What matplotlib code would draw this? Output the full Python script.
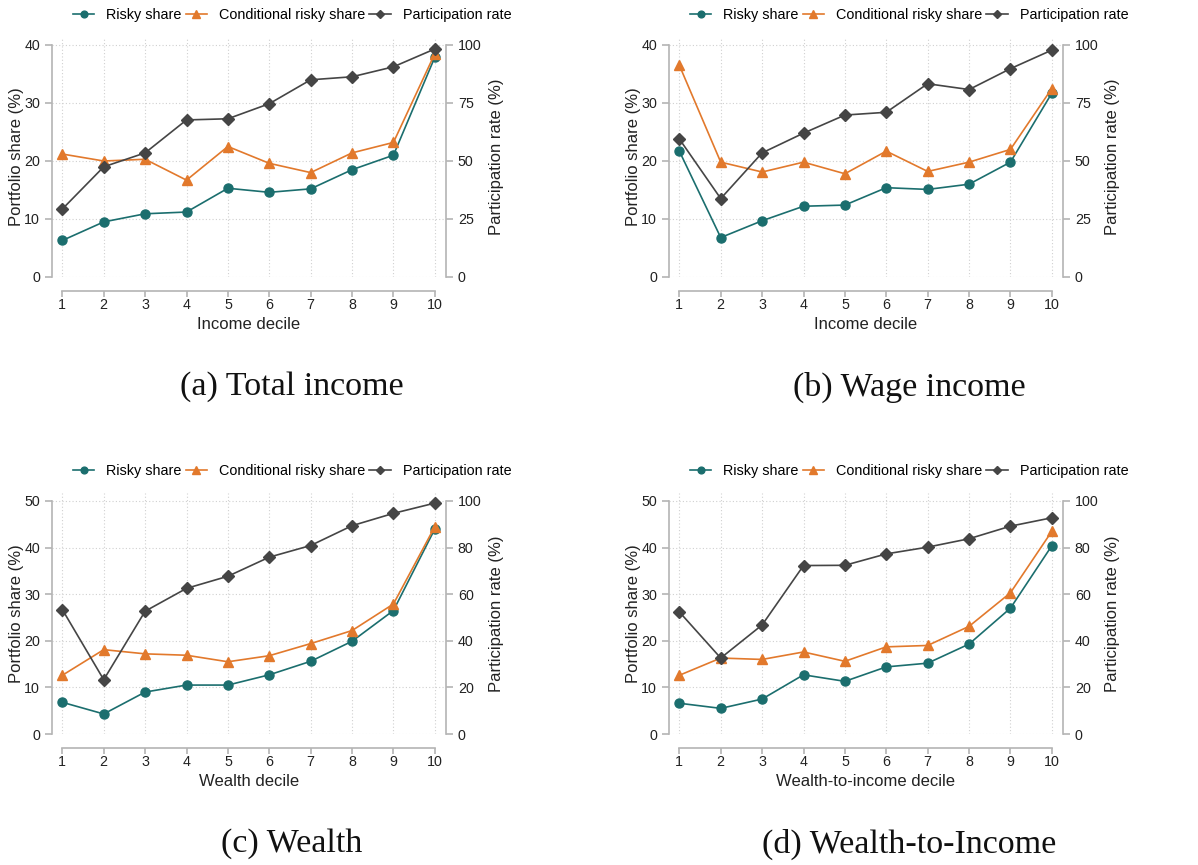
import numpy as np
import matplotlib.pyplot as plt

plt.rcParams['font.family'] = ['Liberation Sans', 'DejaVu Sans']

deciles = np.arange(1, 11)

# (a) Total income
risky_a = [6.3, 9.5, 10.9, 11.2, 15.3, 14.6, 15.2, 18.5, 21.0, 37.9]
cond_a = [21.2, 20.0, 20.3, 16.7, 22.5, 19.6, 18.0, 21.4, 23.2, 38.5]
part_a = [29.3, 47.5, 53.5, 67.7, 68.2, 74.7, 85.0, 86.3, 90.6, 98.3]

# (b) Wage income
risky_b = [21.7, 6.8, 9.7, 12.2, 12.4, 15.4, 15.1, 16.0, 19.8, 31.7]
cond_b = [36.5, 19.8, 18.1, 19.8, 17.8, 21.7, 18.2, 19.8, 22.0, 32.5]
part_b = [59.5, 33.8, 53.5, 62.0, 69.8, 71.0, 83.3, 80.8, 89.8, 97.8]

# (c) Wealth
risky_c = [6.8, 4.3, 9.0, 10.5, 10.5, 12.7, 15.6, 19.9, 26.5, 44.0]
cond_c = [12.6, 18.1, 17.2, 16.9, 15.5, 16.8, 19.4, 22.2, 27.9, 44.5]
part_c = [53.4, 23.3, 52.7, 62.5, 67.7, 75.9, 80.9, 89.4, 94.7, 99.1]

# (d) Wealth-to-income
risky_d = [6.6, 5.5, 7.5, 12.7, 11.3, 14.4, 15.2, 19.3, 27.0, 40.4]
cond_d = [12.6, 16.3, 16.0, 17.6, 15.6, 18.7, 19.0, 23.1, 30.3, 43.5]
part_d = [52.4, 32.6, 46.8, 72.3, 72.4, 77.3, 80.2, 83.8, 89.2, 92.8]

panels = [
    (risky_a, cond_a, part_a, 'Income decile', '(a) Total income', 40, 10, 25),
    (risky_b, cond_b, part_b, 'Income decile', '(b) Wage income', 40, 10, 25),
    (risky_c, cond_c, part_c, 'Wealth decile', '(c) Wealth', 50, 10, 20),
    (risky_d, cond_d, part_d, 'Wealth-to-income decile', '(d) Wealth-to-Income', 50, 10, 20),
]

c_risky = '#1b6e6e'
c_cond = '#e2792c'
c_part = '#454545'
c_spine = '#b4b4b4'

fig = plt.figure(figsize=(11.98, 8.65), dpi=100)
W, H = 1198, 865
# left spine px, top of plot px, y=0 px, legend centre y px
boxes = [(52, 37, 277, 15), (669, 37, 277, 15), (52, 493, 734, 471), (669, 493, 734, 471)]

for (risky, cond, part, xlab, cap, ymax, ystep, pstep), (lpx, tpx, bpx, legy) in zip(panels, boxes):
    ax = fig.add_axes([lpx / W, 1 - bpx / H, 394 / W, (bpx - tpx) / H])
    top = ymax * (bpx - tpx) / (bpx - tpx - 8)
    ax.set_xlim(0.75, 10.27)
    ax.set_ylim(0, top)
    ax2 = ax.twinx()
    ax2.set_ylim(0, top / ymax * 100)

    l1, = ax.plot(deciles, risky, color=c_risky, marker='o', ms=6.5, lw=1.2, clip_on=False, zorder=3)
    l2, = ax.plot(deciles, cond, color=c_cond, marker='^', ms=7, lw=1.2, clip_on=False, zorder=3)
    l3, = ax2.plot(deciles, part, color=c_part, marker='D', ms=6, lw=1.2, clip_on=False, zorder=3)

    ax.set_yticks(np.arange(0, ymax + 1, ystep))
    ax2.set_yticks(np.arange(0, 101, pstep))
    ax.set_xticks(deciles)
    ax.grid(True, color='#d0d0d0', linestyle=(0, (1, 2)), linewidth=0.8)
    ax.set_axisbelow(True)

    for a in (ax, ax2):
        a.spines['top'].set_visible(False)
        for s in ('left', 'right', 'bottom'):
            a.spines[s].set_color(c_spine)
            a.spines[s].set_linewidth(1.2)
        a.tick_params(colors=c_spine, labelcolor='#222222', labelsize=10.3, width=1.2, length=5)
    ax.tick_params(axis='x', pad=1, length=4)
    ax.spines['right'].set_visible(False)
    ax2.spines['left'].set_visible(False)
    ax2.spines['bottom'].set_visible(False)
    ax.spines['left'].set_bounds(0, ymax)
    ax2.spines['right'].set_bounds(0, 100)
    ax.spines['bottom'].set_position(('outward', 10))
    ax.spines['bottom'].set_bounds(1, 10)

    ax.set_xlabel(xlab, fontsize=12, color='#222222', labelpad=4)
    ax.set_ylabel('Portfolio share (%)', fontsize=12, color='#222222', labelpad=0)
    ax2.set_ylabel('Participation rate (%)', fontsize=12, color='#222222', labelpad=5)

    # legend centred over the whole panel (incl. right label), like the caption
    ax.legend([l1, l2, l3], ['Risky share', 'Conditional risky share', 'Participation rate'],
              loc='center', bbox_to_anchor=(240 / 394, (bpx - legy) / (bpx - tpx)),
              ncol=3, frameon=False, borderpad=0, borderaxespad=0,
              fontsize=10.4, handlelength=1.5, columnspacing=0.3, handletextpad=0.8,
              markerscale=0.75)

    cx = (lpx + 240) / W
    cy = 1 - (bpx + 110) / H
    fig.text(cx, cy, cap, ha='center', va='center', fontsize=24.5,
             family=['Liberation Serif', 'DejaVu Serif'], color='#111111')

fig.savefig('out.png', dpi=100)
